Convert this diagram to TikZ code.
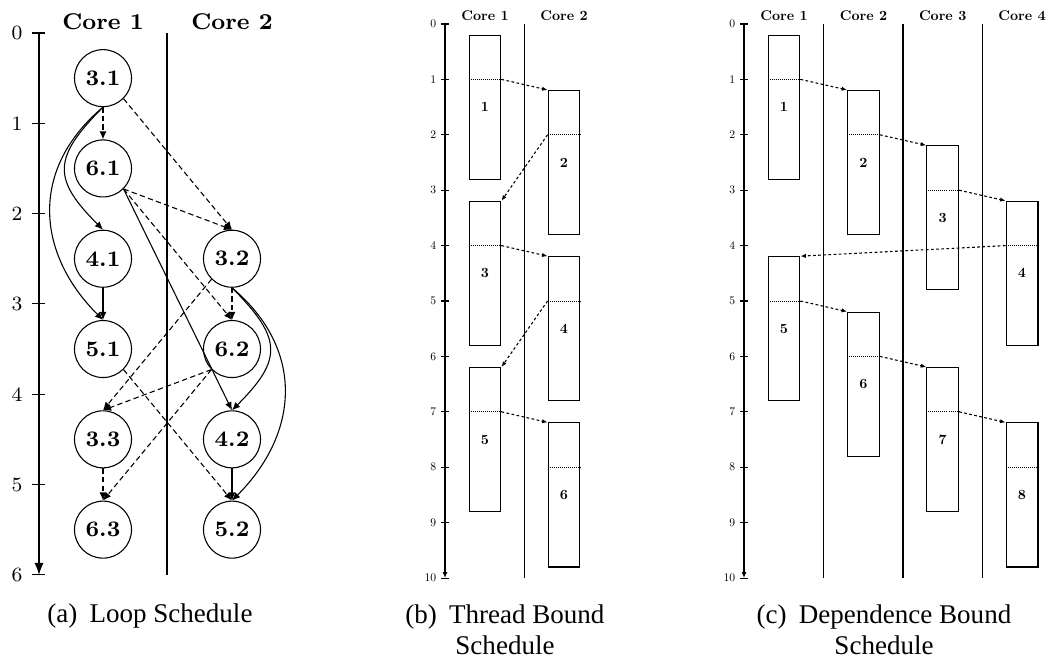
\documentclass[tikz,border=0pt]{standalone}
\usepackage{fontspec}
\newfontfamily\capfont{Liberation Serif}
\newfontfamily\tenbf{lmroman10-bold.otf}
\newfontfamily\tenrm{lmroman10-regular.otf}
\usetikzlibrary{arrows.meta}
\tikzset{
  job/.style={
    circle,
    draw,
    minimum size=21.1pt,
    inner sep=0pt,
    font=\fontsize{8.2}{9}\selectfont\bfseries
  },
  core/.style={
    font=\fontsize{8.4}{9}\selectfont\bfseries
  },
  smallcore/.style={
    font=\tenbf\fontsize{5.2}{6}\selectfont
  },
  bignum/.style={
    font=\fontsize{7.5}{8}\selectfont,
    inner sep=0pt
  },
  smallnum/.style={
    font=\tenrm\fontsize{4.3}{5}\selectfont,
    anchor=east,
    inner sep=1.6pt
  },
  task/.style={
    draw,
    minimum width=11.8pt,
    minimum height=53.3pt,
    inner sep=0pt,
    font=\tenbf\fontsize{5.2}{6}\selectfont
  },
  flow/.style={
    -{Latex[length=3pt,width=2.6pt]}
  },
  dep/.style={
    flow,
    dash pattern=on 2pt off 1.2pt
  },
  sync/.style={
    -{Latex[length=2pt,width=1.6pt]},
    dash pattern=on 1pt off 0.9pt
  },
  cut/.style={
    line width=0.3pt,
    dash pattern=on 0.3pt off 0.45pt
  },
  caption/.style={
    font=\capfont\fontsize{10}{11.5}\selectfont,
    align=center
  }
}
\begin{document}
\begin{tikzpicture}[x=0.37pt, y=-0.37pt]
\useasboundingbox (0,0) rectangle (1052,660);

% (a) loop schedule
\begin{scope}[y=-33.41pt, yshift=-12.21pt]
\draw[-{Latex[length=4.4pt,width=3.4pt]}] (39,0) -- (39,6);
\foreach \t in {0,...,6}{
  \draw (32,\t) -- (45,\t);
  \node[bignum] (ta\t) at (17,\t) {\t};
}
\draw (167,0) -- (167,6);
\node[core] (ca1) at (103,-0.13) {Core 1};
\node[core] (ca2) at (232,-0.13) {Core 2};

\node[job] (n31) at (103,0.5) {3.1};
\node[job] (n61) at (103,1.5) {6.1};
\node[job] (n41) at (103,2.5) {4.1};
\node[job] (n51) at (103,3.5) {5.1};
\node[job] (n33) at (103,4.5) {3.3};
\node[job] (n63) at (103,5.5) {6.3};
\node[job] (n32) at (232,2.5) {3.2};
\node[job] (n62) at (232,3.5) {6.2};
\node[job] (n42) at (232,4.5) {4.2};
\node[job] (n52) at (232,5.5) {5.2};

\draw[dep] (n31) -- (n61);
\draw[dep] (n31.south east) -- (n32.north);
\draw[dep] (n61.south east) -- (n32.north);
\draw[dep] (n61.south east) -- (n62.north);
\draw[flow] (n61.south east) -- (n42.north);
\draw[flow] (n31.south) to[out=225, in=135, looseness=1.5] (n41.north);
\draw[flow] (n31.south) to[out=220, in=135, looseness=1.15] (n51.north);
\draw[flow] (n41) -- (n51);
\draw[dep] (n32) -- (n62);
\draw[dep] (n32.south west) -- (n33.north);
\draw[flow] (n32.south) to[out=-45, in=45, looseness=1.5] (n42.north);
\draw[flow] (n32.south) to[out=-40, in=45, looseness=1.15] (n52.north);
\draw[dep] (n62.south west) -- (n33.north);
\draw[dep] (n62.south west) -- (n63.north);
\draw[dep] (n51.south east) -- (n52.north);
\draw[dep] (n33) -- (n63);
\draw[flow] (n42) -- (n52);
\end{scope}

% (b) thread bound schedule
\begin{scope}[y=-20.5pt, yshift=-8.88pt]
\draw[-{Latex[length=2.2pt,width=1.8pt]}] (445,0) -- (445,10);
\foreach \t in {0,...,10}{
  \draw (441,\t) -- (449,\t);
  \node[smallnum] (tb\t) at (441,\t) {\t};
}
\draw (524.3,0) -- (524.3,10);
\node[smallcore] (cb1) at (485,-0.15) {Core 1};
\node[smallcore] (cb2) at (564,-0.15) {Core 2};

\node[task] (t1) at (485,1.5) {1};
\node[task] (t2) at (564,2.5) {2};
\node[task] (t3) at (485,4.5) {3};
\node[task] (t4) at (564,5.5) {4};
\node[task] (t5) at (485,7.5) {5};
\node[task] (t6) at (564,8.5) {6};

\draw[cut] (t1.west |- 0,1) -- (t1.east |- 0,1);
\draw[cut] (t2.west |- 0,2) -- (t2.east |- 0,2);
\draw[cut] (t3.west |- 0,4) -- (t3.east |- 0,4);
\draw[cut] (t4.west |- 0,5) -- (t4.east |- 0,5);
\draw[cut] (t5.west |- 0,7) -- (t5.east |- 0,7);
\draw[cut] (t6.west |- 0,8) -- (t6.east |- 0,8);

\draw[sync] (t1.east |- 0,1) -- (t2.north west);
\draw[sync] (t2.west |- 0,2) -- (t3.north east);
\draw[sync] (t3.east |- 0,4) -- (t4.north west);
\draw[sync] (t4.west |- 0,5) -- (t5.north east);
\draw[sync] (t5.east |- 0,7) -- (t6.north west);
\end{scope}

% (c) dependence bound schedule
\begin{scope}[y=-20.5pt, yshift=-8.88pt]
\draw[-{Latex[length=2.2pt,width=1.8pt]}] (744,0) -- (744,10);
\foreach \t in {0,...,10}{
  \draw (740,\t) -- (748,\t);
  \node[smallnum] (tc\t) at (740,\t) {\t};
}
\draw (823.7,0) -- (823.7,10);
\draw (903,0) -- (903,10);
\draw (982.7,0) -- (982.7,10);
\node[smallcore] (cc1) at (784,-0.15) {Core 1};
\node[smallcore] (cc2) at (863.5,-0.15) {Core 2};
\node[smallcore] (cc3) at (942.7,-0.15) {Core 3};
\node[smallcore] (cc4) at (1022,-0.15) {Core 4};

\node[task] (u1) at (784,1.5) {1};
\node[task] (u2) at (863.5,2.5) {2};
\node[task] (u3) at (942.7,3.5) {3};
\node[task] (u4) at (1022,4.5) {4};
\node[task] (u5) at (784,5.5) {5};
\node[task] (u6) at (863.5,6.5) {6};
\node[task] (u7) at (942.7,7.5) {7};
\node[task] (u8) at (1022,8.5) {8};

\draw[cut] (u1.west |- 0,1) -- (u1.east |- 0,1);
\draw[cut] (u2.west |- 0,2) -- (u2.east |- 0,2);
\draw[cut] (u3.west |- 0,3) -- (u3.east |- 0,3);
\draw[cut] (u4.west |- 0,4) -- (u4.east |- 0,4);
\draw[cut] (u5.west |- 0,5) -- (u5.east |- 0,5);
\draw[cut] (u6.west |- 0,6) -- (u6.east |- 0,6);
\draw[cut] (u7.west |- 0,7) -- (u7.east |- 0,7);
\draw[cut] (u8.west |- 0,8) -- (u8.east |- 0,8);

\draw[sync] (u1.east |- 0,1) -- (u2.north west);
\draw[sync] (u2.east |- 0,2) -- (u3.north west);
\draw[sync] (u3.east |- 0,3) -- (u4.north west);
\draw[sync] (u4.west |- 0,4) -- (u5.north east);
\draw[sync] (u5.east |- 0,5) -- (u6.north west);
\draw[sync] (u6.east |- 0,6) -- (u7.north west);
\draw[sync] (u7.east |- 0,7) -- (u8.north west);
\end{scope}

\node[caption] (capa) at (150,616) {(a)\hskip0.45em Loop Schedule};
\node[caption] (capb) at (505,630) {(b)\hskip0.45em Thread Bound\\Schedule};
\node[caption] (capc) at (884,630) {(c)\hskip0.45em Dependence Bound\\Schedule};
\end{tikzpicture}
\end{document}
